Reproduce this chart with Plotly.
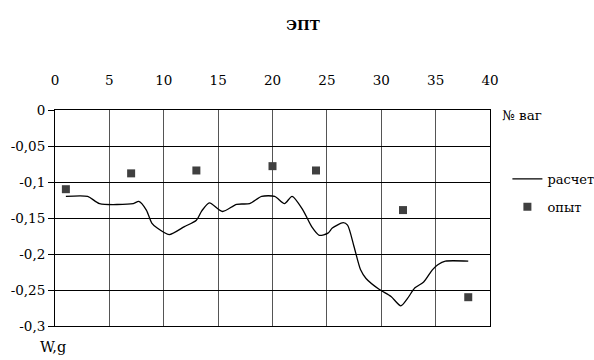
import plotly.graph_objects as go

# calculated curve (расчет)
calc_x = [1, 3, 4.1, 7.2, 7.7, 8.4, 8.9, 9.4, 10.5, 11.9, 13, 13.5, 14.2, 15.4, 16.7, 17.9,
          19, 20.2, 21.1, 21.8, 22.8, 23.6, 24.3, 25.1, 25.5, 26.5, 26.9, 27.5, 28.1, 28.6,
          29.8, 30.9, 31.8, 32.4, 33.1, 33.9, 34.7, 35.2, 35.9, 38]
calc_y = [-0.12, -0.12, -0.13, -0.13, -0.127, -0.139, -0.157, -0.164, -0.173, -0.162,
          -0.153, -0.14, -0.129, -0.141, -0.131, -0.13, -0.12, -0.12, -0.13, -0.12,
          -0.139, -0.162, -0.174, -0.171, -0.164, -0.1565, -0.16, -0.19, -0.222, -0.234,
          -0.249, -0.259, -0.272, -0.262, -0.247, -0.239, -0.222, -0.215, -0.21, -0.21]

# experimental points (опыт)
exp_x = [1, 7, 13, 20, 24, 32, 38]
exp_y = [-0.11, -0.088, -0.084, -0.078, -0.084, -0.139, -0.26]

y_ticks = [0, -0.05, -0.1, -0.15, -0.2, -0.25, -0.3]
y_tick_text = ["0", "-0,05", "-0,1", "-0,15", "-0,2", "-0,25", "-0,3"]
x_ticks = [0, 5, 10, 15, 20, 25, 30, 35, 40]

FONT = "DejaVu Serif"
FS = 13.5

fig = go.Figure()
fig.add_trace(go.Scatter(x=calc_x, y=calc_y, mode="lines", name="расчет",
                         line=dict(color="black", width=1.3, shape="spline", smoothing=0.7),
                         legendgroup="a"))
fig.add_trace(go.Scatter(x=exp_x, y=exp_y, mode="markers", name="опыт",
                         marker=dict(symbol="square", size=8, color="#404040"),
                         legendgroup="b"))

fig.update_layout(
    width=594, height=360,
    margin=dict(l=55, r=104, t=110, b=34, autoexpand=False),
    paper_bgcolor="white", plot_bgcolor="white",
    font=dict(family=FONT, size=FS, color="black"),
    title=dict(text="<b>ЭПТ</b>", x=0.51, xanchor="center", y=0.93, yanchor="middle",
               font=dict(family=FONT, size=FS, color="black")),
    showlegend=True,
    legend=dict(x=1.04, y=0.75, xanchor="left", yanchor="top",
                font=dict(family=FONT, size=FS - 0.5, color="black"),
                tracegroupgap=8, bgcolor="rgba(0,0,0,0)", itemwidth=30),
    xaxis=dict(side="top", range=[0, 40], tickvals=x_ticks, showgrid=True,
               gridcolor="#555555", gridwidth=1, showline=True, linecolor="black",
               linewidth=1, mirror=True, ticks="", zeroline=False,
               tickfont=dict(family=FONT, size=FS, color="black"), ticklabelstandoff=19),
    yaxis=dict(range=[-0.3, 0], tickvals=y_ticks, ticktext=y_tick_text, showgrid=True,
               gridcolor="black", gridwidth=1, showline=True, linecolor="black",
               linewidth=1, mirror=True, ticks="outside", ticklen=6, tickcolor="black",
               zeroline=False, tickfont=dict(family=FONT, size=FS, color="black")),
    annotations=[
        dict(text="№ ваг", x=502, y=115, xref="paper", yref="paper", showarrow=False,
             font=dict(family=FONT, size=FS, color="black")),
        dict(text="W,g", x=0, y=0, xref="paper", yref="paper", showarrow=False,
             font=dict(family=FONT, size=FS + 1, color="black")),
    ],
)

# position the annotations in pixel terms converted to paper coordinates
pw, ph = 594 - 55 - 104, 360 - 110 - 34
def px(x):
    return (x - 55) / pw
def py(y):
    return (326 - y) / ph
fig.layout.annotations[0].update(x=px(500), y=py(115), xanchor="left", yanchor="middle")
fig.layout.annotations[1].update(x=px(38), y=py(347), xanchor="left", yanchor="middle")

fig.write_html("out.html")
